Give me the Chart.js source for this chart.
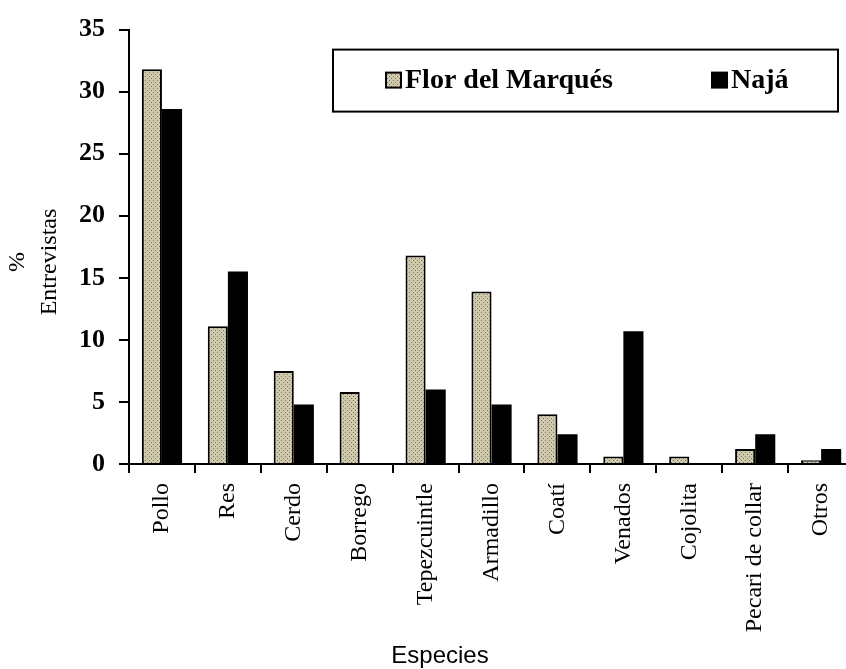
<!DOCTYPE html>
<html><head><meta charset="utf-8">
<script src="https://cdn.jsdelivr.net/npm/chart.js@4/dist/chart.umd.min.js"></script>
<style>
html,body{margin:0;padding:0;background:#fff;overflow:hidden;width:846px;height:669px;}
#wrap{position:relative;width:860px;height:669px;}
canvas{display:block;}
</style></head><body>
<div id="wrap"><canvas id="c" width="860" height="669"></canvas></div>
<script>
const categories = ["Pollo","Res","Cerdo","Borrego","Tepezcuintle","Armadillo","Coatí","Venados","Cojolita","Pecari de collar","Otros"];
const seriesNames = ["Flor del Marqués","Najá"];
const florDelMarques = [31.8,11.1,7.5,5.8,16.8,13.9,4.0,0.6,0.6,1.2,0.3];
const naja = [28.6,15.5,4.8,0,6.0,4.8,2.4,10.7,0,2.4,1.2];
const yTicks = [0,5,10,15,20,25,30,35];
const yTitle = ["%","Entrevistas"];
const xTitle = "Especies";

function makePattern(){
  const t=document.createElement('canvas'); t.width=4; t.height=4;
  const g=t.getContext('2d');
  g.fillStyle='#cfcaae'; g.fillRect(0,0,4,4);
  g.fillStyle='#77735f'; g.fillRect(1,0,1,1); g.fillRect(3,2,1,1);
  return g.createPattern(t,'repeat');
}
const pattern = makePattern();

const legendBox={id:'legendBox',afterDatasetsDraw(chart){
  const {ctx,chartArea:a}=chart;
  const x0=a.left+204, y0=a.top+20, w=505, h=62;
  ctx.save();
  ctx.fillStyle='#fff'; ctx.fillRect(x0,y0,w,h);
  ctx.strokeStyle='#000'; ctx.lineWidth=2; ctx.strokeRect(x0,y0,w,h);
  const ds=chart.data.datasets;
  const items=[{sx:x0+53},{sx:x0+379}];
  ctx.font='bold 28px "Liberation Serif"'; ctx.textBaseline='middle'; ctx.textAlign='left';
  items.forEach((it,i)=>{
    const sy=y0+23, s=15;
    ctx.fillStyle=ds[i].backgroundColor; ctx.fillRect(it.sx,sy,s,s);
    ctx.strokeStyle='#000'; ctx.lineWidth=2; ctx.strokeRect(it.sx,sy,s,s);
    ctx.fillStyle='#000'; ctx.fillText(ds[i].label,it.sx+19,y0+31);
  });
  ctx.restore();
}};

const axisTitles={id:'axisTitles',afterDraw(chart){
  const {ctx}=chart;
  ctx.save();
  ctx.fillStyle='#000'; ctx.textAlign='center'; ctx.textBaseline='middle';
  ctx.font='24px "Liberation Serif"';
  const cy=262;
  const xs=[18,50];
  yTitle.forEach((t,i)=>{
    ctx.save(); ctx.translate(xs[i],cy); ctx.rotate(-Math.PI/2); ctx.fillText(t,0,0); ctx.restore();
  });
  ctx.font='24px "Liberation Sans"';
  ctx.fillText(xTitle,440,656);
  ctx.restore();
}};

new Chart(document.getElementById('c').getContext('2d'),{
  type:'bar',
  data:{labels:categories,datasets:[
    {label:seriesNames[0],data:florDelMarques,backgroundColor:pattern,borderColor:'#000',borderWidth:2,categoryPercentage:0.61,barPercentage:1},
    {label:seriesNames[1],data:naja,backgroundColor:'#000',borderColor:'#000',borderWidth:0,categoryPercentage:0.61,barPercentage:1}
  ]},
  options:{
    responsive:false,animation:false,devicePixelRatio:1,
    layout:{padding:{top:25,right:2,left:0,bottom:0}},
    plugins:{legend:{display:false},tooltip:{enabled:false}},
    scales:{
      x:{offset:true,
        grid:{offset:true,drawOnChartArea:false,drawTicks:true,tickLength:9,color:'#000',lineWidth:2},
        border:{display:true,color:'#000',width:2},
        ticks:{minRotation:90,maxRotation:90,autoSkip:false,padding:10,color:'#000',font:{family:'Liberation Serif',size:24}},
        afterFit(s){s.height=205;}},
      y:{min:0,max:35,
        afterBuildTicks(s){s.ticks=yTicks.map(v=>({value:v}));},
        ticks:{padding:14,color:'#000',font:{family:'Liberation Serif',size:26,weight:'bold'}},
        grid:{drawOnChartArea:false,tickLength:10,color:'#000',lineWidth:2},
        border:{color:'#000',width:2},
        afterFit(s){s.width=129;}}
    }
  },
  plugins:[legendBox,axisTitles]
});
</script>
</body></html>
